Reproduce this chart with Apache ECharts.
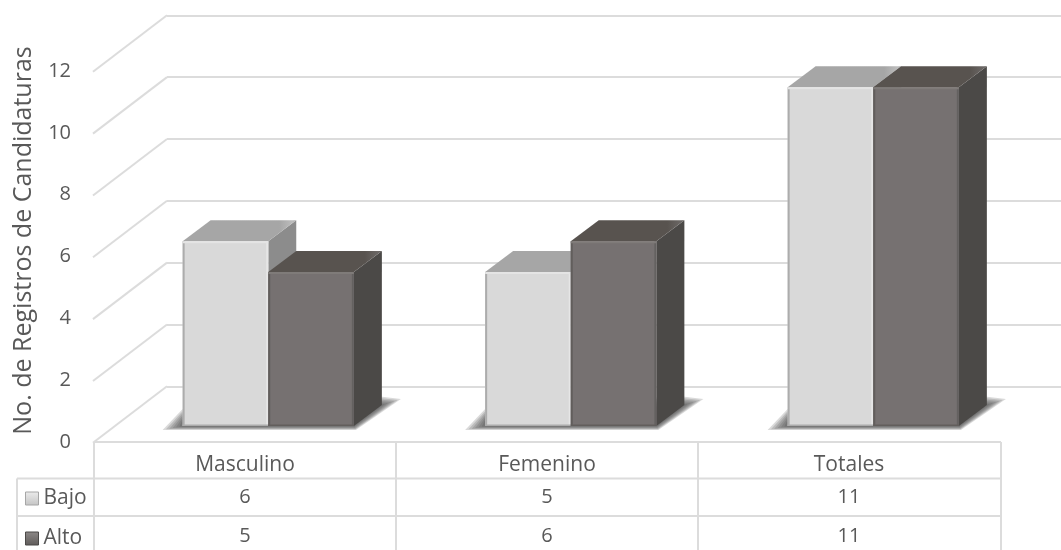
<!DOCTYPE html>
<html><head><meta charset="utf-8">
<script src="https://cdn.jsdelivr.net/npm/echarts@6/dist/echarts.min.js"></script>
<style>html,body{margin:0;background:#fff}#c{width:1061px;height:550px}</style></head>
<body><div id="c"></div>
<script>
const categories = ['Masculino', 'Femenino', 'Totales'];
const bajo = [6, 5, 11];
const alto = [5, 6, 11];
const yTicks = [0, 2, 4, 6, 8, 10, 12];
const yTitle = 'No. de Registros de Candidaturas';

const FONT = '"Open Sans"';
const TXT = '#595959';
const LINE = '#dcdcdc';
const DEPTH_X = 28, DEPTH_Y = 21, BAR_FRAC = 0.283;
const WALL_DX = 74, WALL_DY = 56.5;
const SHADOW_STEPS = 7;

function barRender(pal, side) {
  return function (params, api) {
    const i = api.value(0), v = api.value(1);
    const top = api.coord([i, v]), base = api.coord([i, 0]);
    const w = api.size([1, 0])[0] * BAR_FRAC;
    const x0 = side < 0 ? top[0] - w : top[0];
    const x1 = x0 + w, y0 = top[1], y1 = base[1];
    const dx = DEPTH_X, dy = DEPTH_Y;
    const ch = [
      { type: 'polygon', shape: { points: [[x1, y0], [x1 + dx, y0 - dy], [x1 + dx, y1 - dy], [x1, y1]] }, style: { fill: pal.side } },
      { type: 'polygon', shape: { points: [[x0, y0], [x0 + dx, y0 - dy], [x1 + dx, y0 - dy], [x1, y0]] }, style: {
        fill: { type: 'linear', x: 0, y: 0, x2: 1, y2: 0, colorStops: [{ offset: 0, color: pal.top }, { offset: 0.85, color: pal.top }, { offset: 0.97, color: pal.topEdge }, { offset: 1, color: pal.top }] } } },
      { type: 'rect', shape: { x: x0, y: y0, width: w, height: y1 - y0 }, style: { fill: pal.front } },
      { type: 'rect', shape: { x: x0, y: y0, width: 2, height: y1 - y0 }, style: { fill: pal.edgeL } },
      { type: 'rect', shape: { x: x1 - 2, y: y0, width: 2, height: y1 - y0 }, style: { fill: pal.edgeR } },
      { type: 'rect', shape: { x: x0, y: y0, width: w, height: 2 }, style: { fill: pal.edgeT } },
      { type: 'rect', shape: { x: x0, y: y1 - 1.5, width: w, height: 1.5 }, style: { fill: pal.edgeB } }
    ];
    return { type: 'group', children: ch };
  };
}

function shadowRender(params, api) {
  const i = api.value(0);
  const base = api.coord([i, 0]);
  const w = api.size([1, 0])[0] * BAR_FRAC;
  const l = base[0] - w, r = base[0] + w, y = base[1];
  const outer = [[l - 20, y + 4], [r + 2, y + 4], [r + 47, y - 27], [r + 22, y - 30], [l, y - 17]];
  const inner = [[l, y], [r, y], [r + 28, y - 21], [r + 20, y - 21], [l, y - 4]];
  const children = [];
  for (let k = 0; k < SHADOW_STEPS; k++) {
    const t = k / (SHADOW_STEPS - 1);
    children.push({ type: 'polygon',
      shape: { points: outer.map((p, n) => [p[0] + (inner[n][0] - p[0]) * t, p[1] + (inner[n][1] - p[1]) * t]) },
      style: { fill: 'rgba(70,70,70,0.2)' } });
  }
  return { type: 'group', children };
}

function wallRender(params, api) {
  const p = api.coord([0, api.value(0)]);
  const x = params.coordSys.x;
  return { type: 'line', shape: { x1: x, y1: p[1], x2: x - WALL_DX, y2: p[1] + WALL_DY },
    style: { stroke: LINE, lineWidth: 2 } };
}

const light = { front: '#d9d9d9', top: '#a6a6a6', topEdge: '#bdbdbd', side: '#8c8c8c', edgeL: '#acacac', edgeR: '#e6e6e6', edgeT: '#e4e4e4', edgeB: '#ababab' };
const dark = { front: '#767171', top: '#58534f', topEdge: '#6b6765', side: '#4b4947', edgeL: '#625e5c', edgeR: '#646160', edgeT: '#7f7b79', edgeB: '#625e5c' };

const hiddenCat = (g) => ({ type: 'category', gridIndex: g, data: categories, show: false });
const tableAxis = (data, off, margin, size) => ({
  type: 'category', gridIndex: 0, data, position: 'bottom', offset: off,
  axisLine: { show: false }, axisTick: { show: false }, splitLine: { show: false },
  axisLabel: { show: true, interval: 0, margin, color: TXT, fontFamily: FONT, fontSize: size }
});

const L = (x1, y1, x2, y2) => ({ type: 'line', shape: { x1, y1, x2, y2 }, style: { stroke: LINE, lineWidth: 2 }, z: 3 });

const chart = echarts.init(document.getElementById('c'), null, { renderer: 'canvas' });
chart.setOption({
  animation: false,
  backgroundColor: '#fff',
  textStyle: { fontFamily: FONT },
  grid: [
    { left: 94, right: 61, top: 71, height: 371 },
    { left: 167, right: 0, top: 15.3, height: 371 },
    { left: 117, width: 907.5, top: 56.4, height: 369.6 }
  ],
  xAxis: [
    tableAxis(categories, 0, 12.5, 21),
    tableAxis(bajo.map(String), 36, 9, 20),
    tableAxis(alto.map(String), 75, 9, 20),
    hiddenCat(1),
    hiddenCat(2)
  ],
  yAxis: [
    { type: 'value', gridIndex: 0, min: 0, max: 12, interval: 2,
      name: yTitle, nameLocation: 'middle', nameGap: 58, nameRotate: 90,
      nameTextStyle: { color: TXT, fontFamily: FONT, fontSize: 25, padding: [0, 0, 0, 32] },
      axisLine: { show: false }, axisTick: { show: false }, splitLine: { show: false },
      axisLabel: { color: TXT, fontFamily: FONT, fontSize: 20, margin: 23 } },
    { type: 'value', gridIndex: 1, min: 0, max: 12, interval: 2,
      axisLine: { show: false }, axisTick: { show: false }, axisLabel: { show: false },
      splitLine: { show: true, lineStyle: { color: LINE, width: 2 } } },
    { type: 'value', gridIndex: 2, min: 0, max: 12, interval: 2, show: false, splitLine: { show: false } }
  ],
  legend: {
    orient: 'vertical', left: 25, top: 488, padding: 0, itemWidth: 13, itemHeight: 13, itemGap: 19,
    icon: 'rect', data: ['Bajo', 'Alto'], itemStyle: { borderWidth: 1 },
    textStyle: { color: TXT, fontFamily: FONT, fontSize: 21 },
    selectedMode: false
  },
  series: [
    { type: 'custom', name: 'walls', coordinateSystem: 'cartesian2d', xAxisIndex: 3, yAxisIndex: 1, z: 1,
      renderItem: wallRender, data: yTicks.map(v => [v]), encode: { y: 0 }, silent: true, clip: false },
    { type: 'custom', name: 'shadow', coordinateSystem: 'cartesian2d', xAxisIndex: 4, yAxisIndex: 2, z: 2,
      renderItem: shadowRender, data: categories.map((c, i) => [i, 0]), silent: true, clip: false },
    { type: 'custom', name: 'Bajo', coordinateSystem: 'cartesian2d', xAxisIndex: 4, yAxisIndex: 2, z: 3,
      itemStyle: { color: { type: 'linear', x: 0, y: 0, x2: 0, y2: 1, colorStops: [{ offset: 0, color: '#ececec' }, { offset: 1, color: '#c4c4c4' }] }, borderColor: '#a6a6a6' },
      renderItem: barRender(light, -1), data: bajo.map((v, i) => [i, v]), encode: { x: 0, y: 1 }, clip: false },
    { type: 'custom', name: 'Alto', coordinateSystem: 'cartesian2d', xAxisIndex: 4, yAxisIndex: 2, z: 4,
      itemStyle: { color: { type: 'linear', x: 0, y: 0, x2: 0, y2: 1, colorStops: [{ offset: 0, color: '#8d8988' }, { offset: 1, color: '#5f5b59' }] }, borderColor: '#4b4947' },
      renderItem: barRender(dark, 1), data: alto.map((v, i) => [i, v]), encode: { x: 0, y: 1 }, clip: false }
  ],
  graphic: { elements: [
    L(94, 442, 1001, 442), L(17, 478.5, 1001, 478.5), L(17, 516, 1001, 516),
    L(94, 442, 94, 550), L(396, 442, 396, 550), L(698, 442, 698, 550), L(1001, 442, 1001, 550), L(17, 478.5, 17, 550)
  ] }
});
</script></body></html>
